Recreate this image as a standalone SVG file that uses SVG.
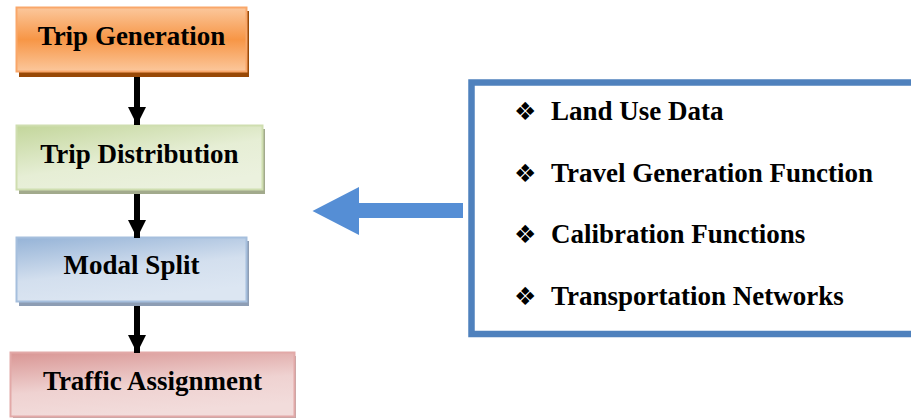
<svg xmlns="http://www.w3.org/2000/svg" width="911" height="418" viewBox="0 0 911 418">
<defs>
<linearGradient id="gOr" x1="0" y1="0" x2="0" y2="1">
<stop offset="0" stop-color="#fbc79c"/><stop offset="0.5" stop-color="#f79646"/><stop offset="1" stop-color="#fbc79c"/>
</linearGradient>
<linearGradient id="gGr" x1="0" y1="0" x2="0.6" y2="1">
<stop offset="0" stop-color="#c3d69b"/><stop offset="0.6" stop-color="#e6eed5"/><stop offset="1" stop-color="#ebf1de"/>
</linearGradient>
<linearGradient id="gBl" x1="0" y1="0" x2="0.4" y2="1">
<stop offset="0" stop-color="#95b3d7"/><stop offset="0.6" stop-color="#d3dfee"/><stop offset="1" stop-color="#dce6f2"/>
</linearGradient>
<linearGradient id="gPk" x1="0" y1="0" x2="0.3" y2="1">
<stop offset="0" stop-color="#d99694"/><stop offset="0.6" stop-color="#efd2d1"/><stop offset="1" stop-color="#f2dcdb"/>
</linearGradient>
<marker id="ah" viewBox="0 0 18 18" refX="18" refY="9" markerWidth="18" markerHeight="18" markerUnits="userSpaceOnUse" orient="auto">
<path d="M0,0 L18,9 L0,18 Z" fill="#000"/>
</marker>
</defs>
<style>
.lbl{font-family:"Liberation Serif","Times New Roman",serif;font-weight:bold;font-size:27px;fill:#000;text-anchor:middle}
.itm{font-family:"Liberation Serif","Times New Roman",serif;font-weight:bold;font-size:27px;fill:#000}
.bul{font-family:"DejaVu Sans",sans-serif;font-size:25px;fill:#000}
.conn{stroke:#000;stroke-width:6;fill:none}
</style>
<g id="trip-generation">
<rect x="19" y="11" width="230" height="66" fill="#984806"/>
<rect x="16.5" y="7.5" width="230" height="64" fill="url(#gOr)" stroke="#f9a76a" stroke-width="2"/>
<text class="lbl" x="131.5" y="45">Trip Generation</text>
</g>
<g id="trip-distribution">
<rect x="19" y="129" width="246" height="65" fill="#a2aa8c"/>
<rect x="16.5" y="125.5" width="246" height="64" fill="url(#gGr)" stroke="#cfdeb0" stroke-width="2"/>
<text class="lbl" x="139.5" y="163">Trip Distribution</text>
</g>
<g id="modal-split">
<rect x="19" y="241" width="230" height="65" fill="#8d9db4"/>
<rect x="16.5" y="237.5" width="230" height="64" fill="url(#gBl)" stroke="#a6bfdd" stroke-width="2"/>
<text class="lbl" x="131.5" y="274">Modal Split</text>
</g>
<g id="traffic-assignment">
<rect x="13" y="356" width="283" height="65" fill="#b9a2a2"/>
<rect x="10.5" y="352.5" width="284" height="64" fill="url(#gPk)" stroke="#e2a9a8" stroke-width="2"/>
<text class="lbl" x="152.5" y="390">Traffic Assignment</text>
</g>
<g id="connectors">
<line class="conn" x1="137" y1="77" x2="137" y2="125" marker-end="url(#ah)"/>
<line class="conn" x1="137" y1="194" x2="137" y2="238" marker-end="url(#ah)"/>
<line class="conn" x1="137" y1="306" x2="137" y2="353" marker-end="url(#ah)"/>
<path d="M463,203 L359,203 L359,187 L312.5,211 L359,235 L359,218 L463,218 Z" fill="#558ed5"/>
</g>
<g id="inputs">
<rect x="471.5" y="82.5" width="450" height="251.5" fill="#fff" stroke="#4f81bd" stroke-width="6.5"/>
<text class="bul" x="514" y="120">❖</text>
<text class="itm" x="551" y="120">Land Use Data</text>
<text class="bul" x="514" y="182">❖</text>
<text class="itm" x="551" y="182">Travel Generation Function</text>
<text class="bul" x="514" y="243">❖</text>
<text class="itm" x="551" y="243">Calibration Functions</text>
<text class="bul" x="514" y="305">❖</text>
<text class="itm" x="551" y="305">Transportation Networks</text>
</g>
</svg>
